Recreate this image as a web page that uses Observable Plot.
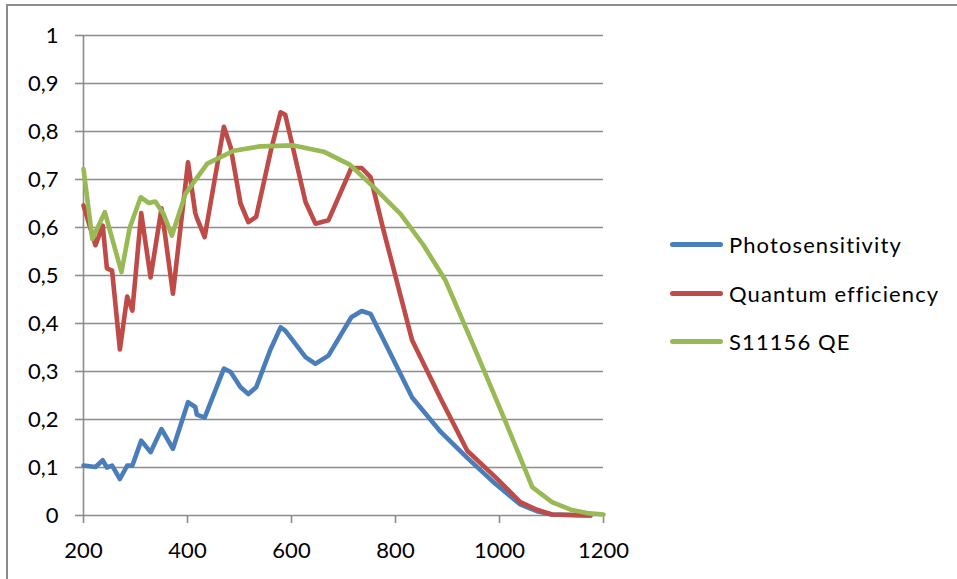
<!DOCTYPE html>
<html>
<head>
<meta charset="utf-8">
<script src="https://cdn.jsdelivr.net/npm/d3@7"></script>
<script src="https://cdn.jsdelivr.net/npm/@observablehq/plot@0.6"></script>
<style>
  html, body { margin: 0; padding: 0; background: #fff; }
  #wrap { position: relative; width: 957px; height: 579px; overflow: hidden; }
  #frame { position: absolute; left: 6px; top: 4px; width: 960px; height: 600px;
           border-top: 2px solid #8c8c8c; border-left: 2px solid #8c8c8c; pointer-events: none; }
  #legend { position: absolute; left: 670px; top: 220px; font-family: Lato, sans-serif; font-size: 22px; letter-spacing: 1.1px; color: #000; }
  .item { display: flex; align-items: center; height: 48.7px; }
  .sw { width: 53px; height: 5px; border-radius: 3px; margin-right: 6px; }
</style>
</head>
<body>
<div id="wrap"><div id="chart"></div><div id="frame"></div><div id="legend"></div></div>
<script>
// Wavelengths (nm) shared by the two measured series
const wavelength = [200,223,237,245,255,270,284,294,311,329,350,372,401,415,418,433,470,483,502,517,532,560,579,588,627,646,671,715,735,752,777,832,887,938,992,1040,1072,1101,1175];
const photosensitivity = [0.104,0.101,0.115,0.100,0.104,0.076,0.104,0.104,0.156,0.132,0.180,0.139,0.236,0.226,0.210,0.204,0.306,0.299,0.267,0.253,0.267,0.347,0.392,0.385,0.330,0.316,0.333,0.413,0.426,0.420,0.366,0.246,0.174,0.120,0.066,0.023,0.009,0.002,0.000];
const quantumEfficiency = [0.646,0.563,0.604,0.515,0.510,0.346,0.456,0.427,0.630,0.496,0.640,0.462,0.736,0.630,0.620,0.580,0.810,0.767,0.650,0.611,0.622,0.759,0.840,0.835,0.653,0.608,0.615,0.724,0.724,0.705,0.594,0.365,0.243,0.135,0.080,0.028,0.012,0.002,0.000];
// S11156 QE series
const s11156Wavelength = [200,217,241,273,289,310,326,338,354,370,396,438,489,540,604,662,712,758,810,854,896,950,1008,1063,1101,1137,1168,1200];
const s11156QE = [0.722,0.576,0.632,0.507,0.600,0.663,0.651,0.654,0.628,0.583,0.670,0.733,0.760,0.769,0.771,0.758,0.731,0.684,0.628,0.563,0.490,0.354,0.205,0.059,0.028,0.012,0.005,0.002];

const seriesNames = ["Photosensitivity", "Quantum efficiency", "S11156 QE"];
const seriesColors = ["#4A7EBB", "#BE4B48", "#98B954"];
const xTicks = [200, 400, 600, 800, 1000, 1200];
const xTickLabels = ["200", "400", "600", "800", "1000", "1200"];
const yTicks = [0, 0.1, 0.2, 0.3, 0.4, 0.5, 0.6, 0.7, 0.8, 0.9, 1];
const yTickLabels = ["0", "0,1", "0,2", "0,3", "0,4", "0,5", "0,6", "0,7", "0,8", "0,9", "1"];

const rows = [];
wavelength.forEach((w, i) => rows.push({s: seriesNames[0], x: w, y: photosensitivity[i]}));
wavelength.forEach((w, i) => rows.push({s: seriesNames[1], x: w, y: quantumEfficiency[i]}));
s11156Wavelength.forEach((w, i) => rows.push({s: seriesNames[2], x: w, y: s11156QE[i]}));

const grid = "#8c8c8c";
const chart = Plot.plot({
  width: 957,
  height: 579,
  marginLeft: 83,
  marginRight: 354,
  marginTop: 35,
  marginBottom: 64,
  style: {fontFamily: "Lato, sans-serif", fontSize: "22px", color: "#000", background: "#fff"},
  x: {domain: [200, 1200], ticks: xTicks},
  y: {domain: [0, 1], ticks: yTicks},
  color: {domain: seriesNames, range: seriesColors},
  marks: [
    Plot.gridY(yTicks, {stroke: grid, strokeOpacity: 1, strokeWidth: 1.6}),
    Plot.axisY(yTicks, {tickSize: 8, tickPadding: 17, stroke: grid, strokeWidth: 1.6, fill: "#000",
      tickFormat: (d) => yTickLabels[yTicks.indexOf(d)], label: null}),
    Plot.axisX(xTicks, {tickSize: 8, tickPadding: 19, stroke: grid, strokeWidth: 1.6, fill: "#000",
      tickFormat: (d) => xTickLabels[xTicks.indexOf(d)], label: null}),
    Plot.ruleX([200], {stroke: grid, strokeWidth: 1.6}),
    Plot.line(rows, {x: "x", y: "y", z: "s", stroke: "s", strokeWidth: 4.6, strokeLinejoin: "round", strokeLinecap: "round"})
  ]
});
document.getElementById("chart").appendChild(chart);

const legend = document.getElementById("legend");
seriesNames.forEach((name, i) => {
  const row = document.createElement("div");
  row.className = "item";
  const sw = document.createElement("div");
  sw.className = "sw";
  sw.style.background = seriesColors[i];
  const t = document.createElement("span");
  t.textContent = name;
  row.appendChild(sw);
  row.appendChild(t);
  legend.appendChild(row);
});
</script>
</body>
</html>
